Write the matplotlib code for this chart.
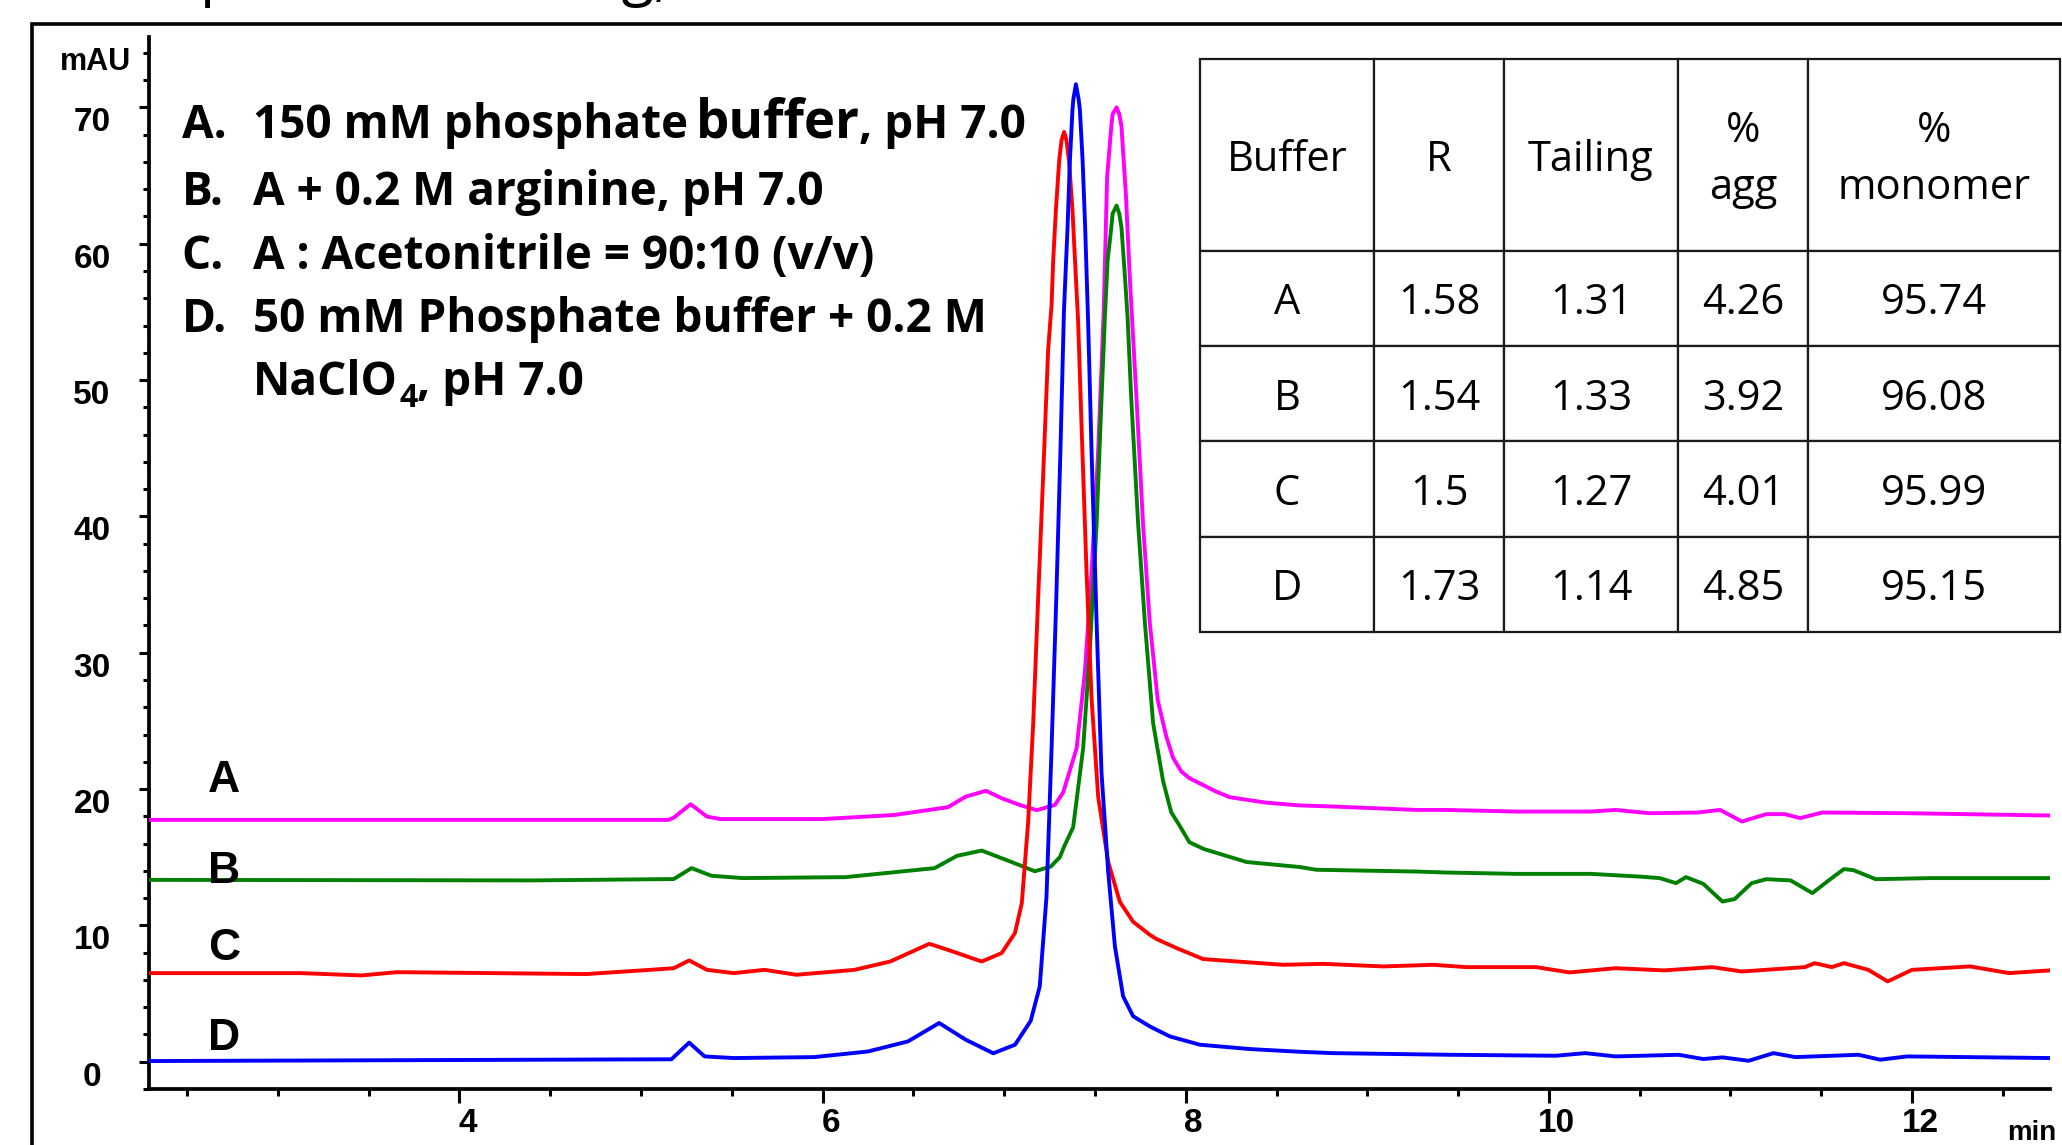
import matplotlib
matplotlib.use('Agg')
import matplotlib.pyplot as plt
import matplotlib.transforms as mtransforms
from matplotlib.patches import Rectangle
from matplotlib.ticker import MultipleLocator, FixedLocator

W, H, DPI = 2062, 1145, 100

# ---------------- data ----------------
time_A = [2.29, 5.15, 5.18, 5.273, 5.363, 5.437, 6.0, 6.396, 6.69, 6.789, 6.9, 6.986, 7.084, 7.18,
          7.28, 7.325, 7.399, 7.444, 7.481, 7.518, 7.548, 7.567, 7.59, 7.597, 7.619, 7.634, 7.646,
          7.67, 7.692, 7.729, 7.765, 7.802, 7.846, 7.894, 7.93, 7.975, 8.02, 8.17, 8.243, 8.445,
          8.628, 8.81, 9.27, 9.43, 9.82, 10.23, 10.367, 10.556, 10.82, 10.943, 11.063, 11.197,
          11.30, 11.384, 11.505, 11.973, 12.76]
signal_A = [17.74, 17.74, 17.9, 18.89, 17.98, 17.8, 17.8, 18.1, 18.67, 19.45, 19.87, 19.33, 18.84, 18.45,
            18.84, 19.76, 23.0, 28.5, 35.8, 44.9, 55.0, 64.9, 68.6, 69.5, 70.0, 69.5, 68.6,
            63.7, 57.5, 48.6, 39.4, 32.2, 26.5, 23.8, 22.3, 21.3, 20.8, 19.8, 19.4, 19.0,
            18.8, 18.72, 18.47, 18.47, 18.35, 18.35, 18.47, 18.23, 18.28, 18.47, 17.62, 18.16,
            18.16, 17.87, 18.28, 18.23, 18.06]

time_B = [2.29, 4.4, 5.18, 5.278, 5.388, 5.56, 6.126, 6.617, 6.74, 6.876, 7.035, 7.169, 7.257, 7.307,
          7.33, 7.38, 7.435, 7.472, 7.509, 7.536, 7.556, 7.57, 7.59, 7.597, 7.619, 7.634, 7.646,
          7.665, 7.68, 7.7, 7.738, 7.775, 7.82, 7.875, 7.92, 7.967, 8.02, 8.10, 8.335, 8.628, 8.72,
          9.27, 9.43, 9.82, 10.23, 10.5, 10.61, 10.70, 10.755, 10.85, 10.956, 11.023, 11.117, 11.197,
          11.331, 11.451, 11.545, 11.625, 11.678, 11.8, 12.107, 12.76]
signal_B = [13.34, 13.3, 13.4, 14.2, 13.64, 13.47, 13.54, 14.2, 15.1, 15.49, 14.68, 13.97, 14.32, 15.01,
            15.78, 17.2, 23.0, 30.3, 39.4, 48.6, 55.0, 58.8, 61.2, 62.2, 62.8, 62.2, 61.2,
            57.6, 54.5, 48.6, 39.4, 32.2, 24.86, 20.6, 18.3, 17.3, 16.1, 15.6, 14.65, 14.28, 14.08,
            13.95, 13.88, 13.78, 13.78, 13.58, 13.47, 13.1, 13.54, 13.05, 11.75, 11.93, 13.1, 13.39,
            13.3, 12.37, 13.34, 14.13, 14.05, 13.39, 13.47, 13.47]

time_C = [2.29, 3.126, 3.46, 3.656, 4.697, 5.05, 5.18, 5.265, 5.363, 5.51, 5.68, 5.855, 6.175, 6.372,
          6.588, 6.716, 6.876, 6.986, 7.059, 7.097, 7.132, 7.16, 7.187, 7.215, 7.242, 7.261, 7.27,
          7.285, 7.303, 7.316, 7.33, 7.343, 7.357, 7.376, 7.39, 7.407, 7.426, 7.454, 7.481, 7.518,
          7.573, 7.637, 7.71, 7.802, 7.839, 7.949, 8.096, 8.536, 8.757, 9.087, 9.362, 9.546, 9.93,
          10.113, 10.367, 10.635, 10.90, 11.063, 11.41, 11.464, 11.558, 11.625, 11.759, 11.866,
          12.0, 12.32, 12.535, 12.76]
signal_C = [6.5, 6.5, 6.33, 6.57, 6.43, 6.74, 6.86, 7.43, 6.74, 6.5, 6.74, 6.38, 6.74, 7.35,
            8.65, 8.09, 7.35, 7.97, 9.43, 11.63, 17.57, 24.86, 33.98, 43.1, 52.2, 55.5, 58.8,
            62.5, 66.1, 67.6, 68.2, 67.6, 66.1, 62.5, 58.8, 54.4, 46.7, 35.8, 26.7, 19.4,
            14.65, 11.73, 10.27, 9.31, 9.0, 8.34, 7.53, 7.11, 7.18, 6.99, 7.11, 6.94, 6.94,
            6.55, 6.86, 6.70, 6.94, 6.62, 6.94, 7.23, 6.94, 7.23, 6.74, 5.89,
            6.74, 6.99, 6.5, 6.70]

time_D = [2.29, 5.167, 5.265, 5.35, 5.51, 5.954, 6.249, 6.47, 6.642, 6.789, 6.94, 7.06, 7.146, 7.196,
          7.233, 7.261, 7.287, 7.31, 7.329, 7.349, 7.362, 7.376, 7.381, 7.395, 7.41, 7.417, 7.432,
          7.446, 7.462, 7.481, 7.509, 7.536, 7.573, 7.61, 7.655, 7.71, 7.802, 7.912, 8.077, 8.353,
          8.628, 8.812, 9.455, 10.04, 10.2, 10.367, 10.715, 10.85, 10.956, 11.10, 11.237, 11.357,
          11.705, 11.825, 11.973, 12.76]
signal_D = [0.05, 0.18, 1.4, 0.39, 0.27, 0.34, 0.75, 1.49, 2.84, 1.61, 0.62, 1.25, 3.0, 5.53,
            12.1, 23.0, 34.0, 44.9, 55.0, 61.2, 66.1, 69.8, 70.6, 71.7, 70.6, 69.8, 66.1,
            61.2, 54.4, 44.9, 32.2, 21.2, 13.9, 8.45, 4.8, 3.34, 2.59, 1.86, 1.25, 0.93,
            0.73, 0.63, 0.51, 0.44, 0.63, 0.39, 0.51, 0.2, 0.32, 0.07, 0.63, 0.34,
            0.51, 0.15, 0.39, 0.27]

trace_names = ['A', 'B', 'C', 'D']
trace_colors = ['#FF00FF', '#008000', '#FF0000', '#0000FF']
trace_label_y = [19.8, 13.1, 7.45, 0.88]

x_major_ticks = [4, 6, 8, 10, 12]
y_major_ticks = [0, 10, 20, 30, 40, 50, 60, 70]

legend_keys = ['A.', 'B.', 'C.', 'D.']

table_header = ['Buffer', 'R', 'Tailing', '%\nagg', '%\nmonomer']
table_buffer = ['A', 'B', 'C', 'D']
table_R = [1.58, 1.54, 1.5, 1.73]
table_tailing = [1.31, 1.33, 1.27, 1.14]
table_agg = [4.26, 3.92, 4.01, 4.85]
table_monomer = [95.74, 96.08, 95.99, 95.15]

# ---------------- figure ----------------
plt.rcParams['font.family'] = ['Open Sans', 'DejaVu Sans']
fig = plt.figure(figsize=(W / DPI, H / DPI), dpi=DPI)
fig.patch.set_facecolor('white')
renderer = fig.canvas.get_renderer()

def fx(px):
    return px / W

def fy(py):
    return 1 - py / H

# outer slide frame (extends past the right/bottom edges)
fig.add_artist(Rectangle((fx(32), -0.2), 1.5, fy(24) + 0.2, transform=fig.transFigure,
                         fill=False, edgecolor='black', linewidth=2.6, clip_on=False))

ax = fig.add_axes([fx(149), fy(1089), fx(2050) - fx(149), fy(36.5) - fy(1089)])
ax.set_xlim(2.29, 12.76)
ax.set_ylim(-2.0, 75.2)
for s in ['top', 'right']:
    ax.spines[s].set_visible(False)
for s in ['left', 'bottom']:
    ax.spines[s].set_linewidth(2.7)

times = [time_A, time_B, time_C, time_D]
signals = [signal_A, signal_B, signal_C, signal_D]
for t, s, c in zip(times, signals, trace_colors):
    ax.plot(t, s, color=c, lw=2.8, solid_joinstyle='round', solid_capstyle='round', zorder=3)

tick_font = dict(family=['Liberation Sans', 'DejaVu Sans'], weight='bold', size=24)
ax.xaxis.set_major_locator(FixedLocator(x_major_ticks))
ax.xaxis.set_minor_locator(MultipleLocator(0.5))
ax.yaxis.set_major_locator(FixedLocator(y_major_ticks))
ax.yaxis.set_minor_locator(MultipleLocator(2))
ax.set_xticklabels([str(v) for v in x_major_ticks], fontdict=tick_font)
ax.set_yticklabels([str(v) for v in y_major_ticks], fontdict=tick_font)
ax.tick_params(axis='x', which='major', length=10, width=2.2, direction='out', pad=4)
ax.tick_params(axis='x', which='minor', length=5, width=2.2, direction='out')
ax.tick_params(axis='y', which='major', length=7.2, width=2.2, direction='out', pad=33.8)
ax.tick_params(axis='y', which='minor', length=4.3, width=2.2, direction='out')

for lbl in ax.get_xticklabels():
    lbl.set_transform(lbl.get_transform() +
                      mtransforms.ScaledTranslation(8 / DPI, 0, fig.dpi_scale_trans))
for lbl in ax.get_yticklabels():
    lbl.set_horizontalalignment('center')
    lbl.set_verticalalignment('baseline')
    lbl.set_transform(lbl.get_transform() +
                      mtransforms.ScaledTranslation(0, -24 / DPI, fig.dpi_scale_trans))

# axis unit labels
fig.text(fx(95), fy(70), 'mAU', ha='center', va='baseline',
         family=['Liberation Sans', 'DejaVu Sans'], weight='bold', fontsize=22)
fig.text(fx(2007), fy(1140), 'min', ha='left', va='baseline',
         family=['Liberation Sans', 'DejaVu Sans'], weight='bold', fontsize=20)

# trace labels
for name, yv in zip(trace_names, trace_label_y):
    ax.text(2.615, yv, name, ha='left', va='baseline',
            family=['Liberation Sans', 'DejaVu Sans'], weight='bold', fontsize=32)

# legend text block
leg_font = dict(family=['Open Sans', 'DejaVu Sans'], weight='bold')
LS = 33
base_y = [138, 205, 269, 332, 395]
for k, yb in zip(legend_keys, base_y):
    fig.text(fx(181.6), fy(yb), k, ha='left', va='baseline', fontsize=LS, **leg_font)
p1 = fig.text(fx(253.3), fy(138), '150 mM phosphate', ha='left', va='baseline', fontsize=LS, **leg_font)
xa = p1.get_window_extent(renderer).x1
p2 = fig.text((xa + 7) / W, fy(138), 'buffer', ha='left', va='baseline', fontsize=38, **leg_font)
xb = p2.get_window_extent(renderer).x1
fig.text(xb / W, fy(138), ', pH 7.0', ha='left', va='baseline', fontsize=LS, **leg_font)
fig.text(fx(253.3), fy(205), 'A + 0.2 M arginine, pH 7.0', ha='left', va='baseline', fontsize=LS, **leg_font)
fig.text(fx(253.3), fy(269), 'A : Acetonitrile = 90:10 (v/v)', ha='left', va='baseline', fontsize=LS, **leg_font)
fig.text(fx(253.3), fy(332), '50 mM Phosphate buffer + 0.2 M', ha='left', va='baseline', fontsize=LS, **leg_font)

t1 = fig.text(fx(253.3), fy(395), 'NaClO', ha='left', va='baseline', fontsize=LS, **leg_font)
x1 = t1.get_window_extent(renderer).x1
t2 = fig.text((x1 + 1) / W, fy(407), '4', ha='left', va='baseline', fontsize=23, **leg_font)
x2 = t2.get_window_extent(renderer).x1
fig.text(x2 / W, fy(395), ', pH 7.0', ha='left', va='baseline', fontsize=LS, **leg_font)

# cut-off slide title (only descenders visible at the top edge)
title_font = dict(family=['Open Sans', 'DejaVu Sans'], fontsize=43)
fig.text(fx(185), 1 + 6 / H, 'Mobile', ha='right', va='baseline', **title_font)
fig.text(fx(200), 1 + 6 / H, 'phase screening,', ha='left', va='baseline', **title_font)

# table
tax = fig.add_axes([fx(1200), fy(632), fx(2060) - fx(1200), fy(58.6) - fy(632)])
tax.axis('off')
cell_text = [[b, str(r), str(t), str(a), str(m)] for b, r, t, a, m in
             zip(table_buffer, table_R, table_tailing, table_agg, table_monomer)]
tbl = tax.table(cellText=cell_text, colLabels=table_header, cellLoc='center',
                colWidths=[174, 130, 174, 130, 252], bbox=[0, 0, 1, 1])
tbl.auto_set_font_size(False)
tbl.set_fontsize(30)
for (r, c), cell in tbl.get_celld().items():
    cell.set_height(192 if r == 0 else 95.4)
    cell.set_linewidth(1.6)
    cell.set_edgecolor('#1a1a1a')
    txt = cell.get_text()
    txt.set_fontfamily(['Open Sans', 'DejaVu Sans'])
    txt.set_fontsize(30)
    txt.set_transform(mtransforms.Affine2D().translate(0, -5))
    if r == 0:
        txt.set_linespacing(1.45)

fig.savefig('out.png', dpi=DPI, facecolor='white')
